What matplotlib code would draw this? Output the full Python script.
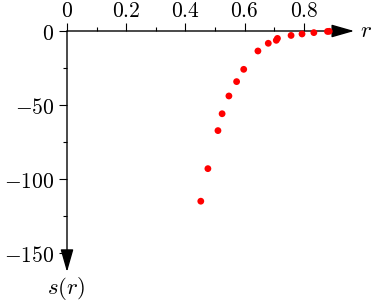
import matplotlib
matplotlib.use("Agg")
import matplotlib.pyplot as plt
from matplotlib.ticker import FixedLocator, FuncFormatter

plt.rcParams['mathtext.fontset'] = 'cm'
plt.rcParams['font.family'] = 'serif'

r_vals = [0.452, 0.476, 0.510, 0.524, 0.547, 0.573, 0.597, 0.645, 0.680,
          0.707, 0.711, 0.757, 0.794, 0.834, 0.880, 0.886]
s_vals = [-115.0, -93.0, -67.3, -55.9, -43.9, -34.2, -25.9, -13.5, -8.3,
          -6.3, -5.0, -3.0, -2.0, -1.1, -0.3, -0.2]
x_major = [0, 0.2, 0.4, 0.6, 0.8]
x_minor = [0.1, 0.3, 0.5, 0.7, 0.9]
y_major = [0, -50, -100, -150]
y_minor = [-25, -75, -125]

W, H = 374, 303
fig = plt.figure(figsize=(W / 100, H / 100), dpi=100)
x0px, y0px = 67, 31
xend, yend = 0.97, -162.8
xscale = 296.0
yscale = 1.48
right_px = x0px + xend * xscale
bottom_px = y0px + (-yend) * yscale
ax = fig.add_axes([x0px / W, 1 - bottom_px / H, (right_px - x0px) / W, (bottom_px - y0px) / H])
ax.set_xlim(0, xend)
ax.set_ylim(yend, 0)

for sp in ax.spines.values():
    sp.set_visible(False)

ax.xaxis.set_ticks_position('top')
ax.xaxis.set_label_position('top')
ax.xaxis.set_major_locator(FixedLocator(x_major))
ax.xaxis.set_minor_locator(FixedLocator(x_minor))
ax.yaxis.set_major_locator(FixedLocator(y_major))
ax.yaxis.set_minor_locator(FixedLocator(y_minor))

def fmt(v, pos):
    if abs(v) < 1e-9:
        return r'$0$'
    if float(v).is_integer():
        return r'$%d$' % int(v)
    return r'$%g$' % v

ax.xaxis.set_major_formatter(FuncFormatter(fmt))
ax.yaxis.set_major_formatter(FuncFormatter(fmt))
ax.tick_params(which='major', direction='out', length=5.8, width=0.8, labelsize=15.5)
ax.tick_params(axis='y', which='major', pad=3.5)
ax.tick_params(axis='x', which='major', pad=1.0)
ax.tick_params(which='minor', direction='out', length=3.2, width=0.8)

# axes with arrows
ax.annotate('', xy=(xend, 0), xytext=(0, 0), xycoords='data',
            arrowprops=dict(arrowstyle='-|>,head_length=1.4,head_width=0.4',
                            color='black', lw=1.0, shrinkA=0, shrinkB=0,
                            mutation_scale=10), annotation_clip=False)
ax.annotate('', xy=(0, yend), xytext=(0, 0), xycoords='data',
            arrowprops=dict(arrowstyle='-|>,head_length=1.4,head_width=0.4',
                            color='black', lw=1.0, shrinkA=0, shrinkB=0,
                            mutation_scale=10), annotation_clip=False)

ax.scatter(r_vals, s_vals, s=24, color='#ff0000', edgecolors='none', zorder=3, clip_on=False)

fig.text(366 / W, 1 - 31 / H, r'$r$', fontsize=16.5, ha='center', va='center')
fig.text(66 / W, 1 - 288 / H, r'$s(r)$', fontsize=16.5, ha='center', va='center')

fig.savefig('out.png', dpi=100)
